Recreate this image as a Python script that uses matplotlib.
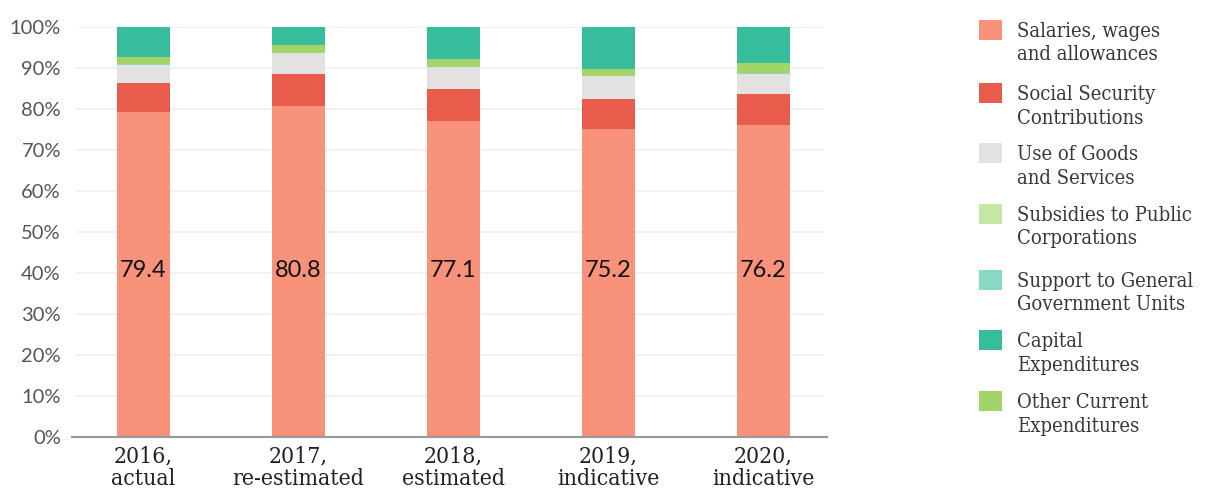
import matplotlib
matplotlib.use("Agg")
import matplotlib.pyplot as plt
from matplotlib.patches import Rectangle

categories = ["2016,\nactual", "2017,\nre-estimated", "2018,\nestimated",
              "2019,\nindicative", "2020,\nindicative"]

salaries = [79.4, 80.8, 77.1, 75.2, 76.2]
social_security = [7.1, 7.8, 7.8, 7.3, 7.6]
goods_services = [4.2, 5.1, 5.3, 5.6, 4.9]
subsidies = [0.0, 0.0, 0.0, 0.0, 0.0]
support_gov = [0.3, 0.1, 0.2, 0.1, 0.1]
other_current = [1.8, 2.0, 1.9, 1.7, 2.4]
capital = [7.2, 4.2, 7.7, 10.1, 8.8]

series_legend = [
    ("Salaries, wages\nand allowances", "#f8927b"),
    ("Social Security\nContributions", "#e95b4a"),
    ("Use of Goods\nand Services", "#e3e1e1"),
    ("Subsidies to Public\nCorporations", "#c6e6a6"),
    ("Support to General\nGovernment Units", "#89d8c5"),
    ("Capital\nExpenditures", "#37bd9b"),
    ("Other Current\nExpenditures", "#a3d46a"),
]

# stacking order from the bottom of each bar
stack = [
    (salaries, "#f8927b"),
    (social_security, "#e95b4a"),
    (goods_services, "#e3e1e1"),
    (subsidies, "#c6e6a6"),
    (support_gov, "#89d8c5"),
    (other_current, "#a3d46a"),
    (capital, "#37bd9b"),
]

W, H = 1205, 490
fig = plt.figure(figsize=(W / 100, H / 100), dpi=100)
ax_left, ax_right, ax_bottom, ax_top = 72, 827, 437.3, 27.3
ax = fig.add_axes([ax_left / W, 1 - ax_bottom / H,
                   (ax_right - ax_left) / W, (ax_bottom - ax_top) / H])

x = list(range(len(categories)))
bottoms = [0.0] * len(categories)
for vals, col in stack:
    ax.bar(x, vals, width=0.342, bottom=bottoms, color=col, zorder=3,
           linewidth=0)
    bottoms = [b + v for b, v in zip(bottoms, vals)]

for xi, v in zip(x, salaries):
    ax.text(xi, 40.6, f"{v:.1f}", ha="center", va="center",
            fontsize=17, family="Lato", color="#111111", zorder=4)

ax.set_xlim(-0.461, 4.41)
ax.set_ylim(0, 100)

yt = list(range(0, 101, 10))
for t in yt[1:]:
    ax.axhline(t, xmin=0.0066, xmax=0.9947, color="#efefef", lw=1.2, zorder=1)
ax.set_yticks(yt)
ax.set_yticklabels([f"{t}%" for t in yt], family="Lato", fontsize=14.5,
                   color="#555555")
ax.tick_params(axis="y", length=0, pad=8)
ax.set_xticks(x)
ax.set_xticklabels(categories, family="DejaVu Serif", fontstretch="condensed",
                   fontsize=16.5, color="#222222", linespacing=1.0)
ax.tick_params(axis="x", length=0, pad=6)

for s in ["top", "right", "left"]:
    ax.spines[s].set_visible(False)
ax.spines["bottom"].set_color("#999999")
ax.spines["bottom"].set_linewidth(1.5)
ax.spines["bottom"].set_zorder(5)

# legend drawn in figure pixel coordinates
patch_tops = [20, 83, 143, 204, 270, 330, 391]
for (label, col), top in zip(series_legend, patch_tops):
    fig.add_artist(Rectangle((979 / W, 1 - (top + 20) / H), 23 / W, 20 / H,
                             transform=fig.transFigure, color=col, lw=0))
    fig.text(1017 / W, 1 - (top + 2) / H, label, ha="left", va="top",
             family="DejaVu Serif", fontstretch="condensed", fontsize=14.5,
             color="#383838", linespacing=1.3)

fig.savefig("out.png", dpi=100)
